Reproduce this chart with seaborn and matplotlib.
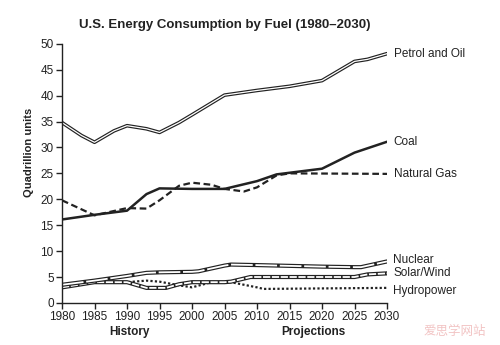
import matplotlib
matplotlib.use("Agg")
import matplotlib.pyplot as plt
import matplotlib.patheffects as pe
import seaborn as sns
import pandas as pd

sns.set_theme(style="ticks")
plt.rcParams['font.family'] = ['Liberation Sans', 'DejaVu Sans']

# ---- data ----
petrol_years = [1980, 1983, 1985, 1988, 1990, 1993, 1995, 1998, 2000, 2005, 2010, 2015, 2020, 2025, 2027, 2030]
petrol_vals = [34.8, 32.3, 31.0, 33.2, 34.2, 33.6, 32.9, 34.8, 36.3, 40.1, 41.0, 41.8, 42.9, 46.6, 47.0, 48.1]

coal_years = [1980, 1985, 1990, 1993, 1995, 2000, 2005, 2010, 2013, 2020, 2025, 2030]
coal_vals = [16.1, 17.0, 17.8, 21.0, 22.1, 22.0, 22.0, 23.5, 24.8, 25.9, 29.0, 31.1]

gas_years = [1980, 1985, 1990, 1993, 1995, 1998, 2000, 2003, 2005, 2008, 2010, 2013, 2015, 2030]
gas_vals = [19.8, 16.9, 18.3, 18.2, 19.8, 22.6, 23.2, 22.8, 22.0, 21.5, 22.3, 24.6, 25.0, 24.9]

nuclear_years = [1980, 1985, 1990, 1993, 1995, 2000, 2001, 2005, 2006, 2010, 2020, 2025, 2026, 2030]
nuclear_vals = [3.5, 4.3, 5.2, 5.8, 5.9, 6.0, 6.1, 7.2, 7.4, 7.3, 7.0, 6.9, 6.9, 8.0]

solar_years = [1980, 1985, 1990, 1993, 1996, 1998, 2000, 2005, 2006, 2009, 2010, 2025, 2027, 2030]
solar_vals = [3.0, 4.0, 4.0, 2.9, 2.9, 3.6, 4.0, 4.0, 4.1, 5.0, 5.0, 5.0, 5.5, 5.7]

hydro_years = [1980, 1985, 1990, 1993, 1995, 1998, 2000, 2003, 2006, 2010, 2011, 2030]
hydro_vals = [3.0, 4.0, 4.0, 4.3, 4.1, 3.4, 3.0, 4.0, 4.0, 3.0, 2.7, 2.9]

x_ticks = list(range(1980, 2031, 5))
y_ticks = list(range(0, 51, 5))

fig = plt.figure(figsize=(5.0, 3.45), dpi=100)
ax = fig.add_axes([0.124, 0.122, 0.65, 0.751])

def df(y, v):
    return pd.DataFrame({"year": y, "value": v})

dark = "#222222"

# Petrol and Oil: double line
sns.lineplot(data=df(petrol_years, petrol_vals), x="year", y="value", ax=ax,
             color="white", linewidth=0.9,
             path_effects=[pe.Stroke(linewidth=2.6, foreground=dark), pe.Normal()])
# Coal: thick solid
sns.lineplot(data=df(coal_years, coal_vals), x="year", y="value", ax=ax,
             color=dark, linewidth=1.8)
# Natural gas: dashed
sns.lineplot(data=df(gas_years, gas_vals), x="year", y="value", ax=ax,
             color=dark, linewidth=1.6, linestyle=(0, (3, 1.6)))
# Hydropower: dotted
sns.lineplot(data=df(hydro_years, hydro_vals), x="year", y="value", ax=ax,
             color=dark, linewidth=1.6, linestyle=(0, (1, 1)))
# Solar/Wind: double line with hatching
sns.lineplot(data=df(solar_years, solar_vals), x="year", y="value", ax=ax,
             color=dark, linewidth=3.0)
sns.lineplot(data=df(solar_years, solar_vals), x="year", y="value", ax=ax,
             color="white", linewidth=1.3, linestyle=(0, (4, 0.9)))
# Nuclear: double line with dots
sns.lineplot(data=df(nuclear_years, nuclear_vals), x="year", y="value", ax=ax,
             color=dark, linewidth=3.0)
sns.lineplot(data=df(nuclear_years, nuclear_vals), x="year", y="value", ax=ax,
             color="white", linewidth=1.3, linestyle=(0, (12, 1.5)))

ax.set_xlim(1980, 2030)
ax.set_ylim(0, 50)
ax.set_xticks(x_ticks)
ax.set_yticks(y_ticks)
ax.tick_params(axis="both", labelsize=8.5, length=4, width=1, color=dark, labelcolor=dark, pad=2)
for s in ["top", "right"]:
    ax.spines[s].set_visible(False)
for s in ["left", "bottom"]:
    ax.spines[s].set_color(dark)
    ax.spines[s].set_linewidth(1.0)
ax.set_xlabel("")
ax.set_ylabel("Quadrillion units", fontsize=8, fontweight="bold", color=dark)
ax.yaxis.set_label_coords(-0.085, 0.58)

# series labels
labels = [("Petrol and Oil", petrol_vals[-1]), ("Coal", coal_vals[-1]),
          ("Natural Gas", gas_vals[-1]), ("Nuclear", nuclear_vals[-1] + 0.2),
          ("Solar/Wind", solar_vals[-1]), ("Hydropower", hydro_vals[-1] - 0.6)]
for name, v in labels:
    ax.text(2031, v, name, fontsize=8.5, color=dark, va="center", ha="left", clip_on=False)

fig.text(0.45, 0.928, "U.S. Energy Consumption by Fuel (1980\u20132030)", fontsize=9.5,
         fontweight="bold", ha="center", va="center", color=dark,
         family=["Liberation Sans Narrow", "Liberation Sans"])
fig.text(0.258, 0.038, "History", fontsize=8.5, fontweight="bold", ha="center", va="center", color=dark)
fig.text(0.626, 0.038, "Projections", fontsize=8.5, fontweight="bold", ha="center", va="center", color=dark)
fig.text(0.91, 0.038, "爱思学网站", fontsize=9, ha="center", va="center", color="#f2c4c4",
         family=["Noto Sans CJK SC", "DejaVu Sans"])

fig.savefig("out.png", dpi=100)
